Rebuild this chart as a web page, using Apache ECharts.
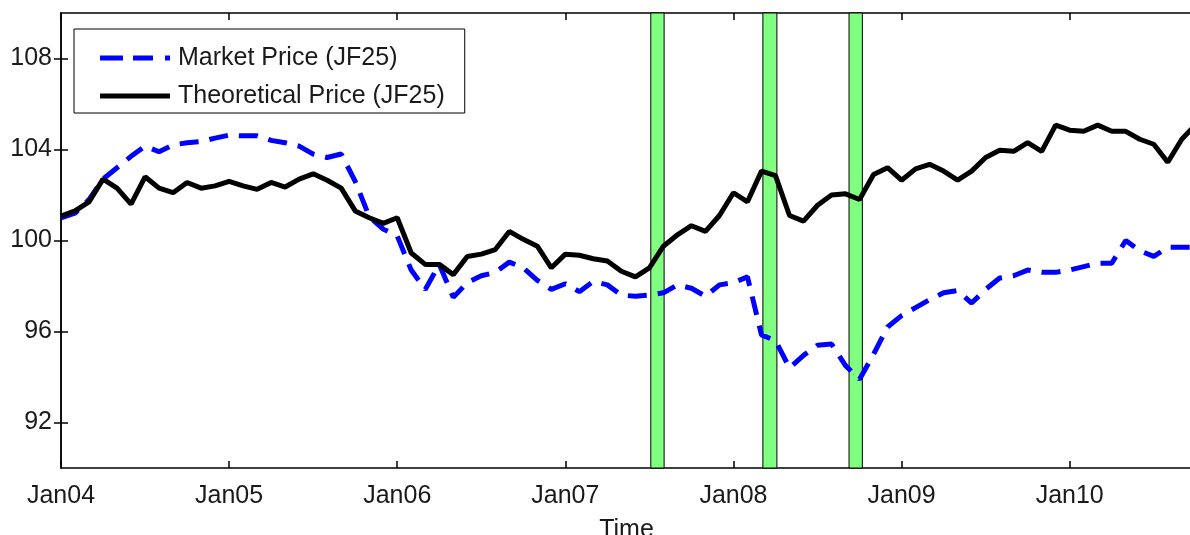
<!DOCTYPE html>
<html>
<head>
<meta charset="utf-8">
<title>JF25 market vs theoretical price</title>
<script src="https://cdn.jsdelivr.net/npm/echarts@6/dist/echarts.min.js"></script>
<style>
    html, body { margin: 0; padding: 0; background: #fff; }
    #chart { width: 1190px; height: 535px; }
</style>
</head>
<body>
<div id="chart"></div>
<script>
// monthly observations, index 0 = Jan 2004
var marketPrice = [
    101.0, 101.2, 101.8, 102.7, 103.2, 103.7, 104.15, 103.9, 104.2, 104.3, 104.35, 104.5,
    104.63, 104.6, 104.6, 104.4, 104.3, 104.15, 103.8, 103.65, 103.8, 102.6, 101.05, 100.5,
    100.2, 98.7, 97.85, 98.95, 97.5, 98.15, 98.45, 98.6, 99.05, 98.8, 98.25, 97.85,
    98.1, 97.75, 98.2, 98.05, 97.6, 97.55, 97.6, 97.7, 98.05, 97.9, 97.55, 98.05,
    98.15, 98.4, 95.85, 95.6, 94.4, 94.95, 95.4, 95.45, 94.5, 93.9, 95.0, 96.2,
    96.7, 97.05, 97.4, 97.7, 97.8, 97.25, 97.85, 98.35, 98.45, 98.7, 98.6, 98.6,
    98.7, 98.85, 99.0, 99.0, 100.0, 99.55, 99.3, 99.7, 99.7, 99.7
];
var theoreticalPrice = [
    101.07, 101.3, 101.7, 102.7, 102.3, 101.6, 102.8, 102.3, 102.1, 102.55, 102.3, 102.4,
    102.6, 102.4, 102.25, 102.55, 102.35, 102.7, 102.93, 102.65, 102.3, 101.3, 101.0, 100.75,
    101.0, 99.45, 98.95, 98.95, 98.5, 99.3, 99.4, 99.6, 100.4, 100.05, 99.75, 98.8,
    99.4, 99.35, 99.2, 99.1, 98.65, 98.4, 98.8, 99.75, 100.25, 100.65, 100.4, 101.1,
    102.1, 101.7, 103.05, 102.85, 101.1, 100.85, 101.55, 102.0, 102.05, 101.8, 102.9, 103.2,
    102.65, 103.15, 103.35, 103.05, 102.65, 103.05, 103.65, 103.97, 103.92, 104.3, 103.92, 105.07,
    104.85, 104.8, 105.07, 104.8, 104.8, 104.45, 104.23, 103.44, 104.45, 105.1
];

// shaded crisis periods, in months since Jan 2004
var crisisBands = [[42.1, 43.05], [50.1, 51.1], [56.25, 57.2]];

var xTickValues = [0, 12, 24, 36, 48, 60, 72];
var xTickLabels = ['Jan04', 'Jan05', 'Jan06', 'Jan07', 'Jan08', 'Jan09', 'Jan10'];
var yTickValues = [92, 96, 100, 104, 108];

var seriesNames = ['Market Price (JF25)', 'Theoretical Price (JF25)'];

function toPoints(values) {
    var pts = [];
    for (var i = 0; i < values.length; i++) {
        pts.push([i, values[i]]);
    }
    return pts;
}

var FONT = '"Liberation Sans", Arial, sans-serif';
var TXT = '#1a1a1a';

// legend samples: dashed bar / solid bar
var DASH_ICON = 'path://M0,0h23v5h-23z M33,0h20v5h-20z M65,0h5v5h-5z';
var SOLID_ICON = 'path://M0,0h70v5h-70z';

function makeAxisTick(values) {
    return { show: true, inside: true, length: 7, lineStyle: { color: '#000', width: 1.5 }, customValues: values };
}
var axisLine = { show: true, lineStyle: { color: '#000', width: 1.5 } };

var myChart = echarts.init(document.getElementById('chart'), null, { renderer: 'canvas' });

var option = {
    animation: false,
    backgroundColor: '#fff',
    // fixed plot box, labels may run past the canvas edge like the original
    grid: { left: 61, right: -2, top: 13, bottom: 67, outerBoundsMode: 'none', containLabel: false },
    legend: {
        data: [
            { name: seriesNames[0], icon: DASH_ICON },
            { name: seriesNames[1], icon: SOLID_ICON }
        ],
        orient: 'vertical',
        left: 74,
        top: 29,
        padding: [16, 20, 4, 26],
        itemWidth: 70,
        itemHeight: 5,
        itemGap: 12,
        backgroundColor: '#fff',
        borderColor: '#000',
        borderWidth: 1,
        textStyle: { fontFamily: FONT, fontSize: 25, color: TXT, lineHeight: 26, padding: [0, 0, 0, 3] }
    },
    xAxis: [{
        type: 'value',
        min: 0,
        max: 80.73,
        interval: 12,
        position: 'bottom',
        name: 'Time',
        nameLocation: 'middle',
        nameGap: 50,
        nameTextStyle: { fontFamily: FONT, fontSize: 25, color: TXT },
        axisLine: axisLine,
        axisTick: makeAxisTick(xTickValues),
        axisLabel: {
            customValues: xTickValues,
            margin: 16,
            fontFamily: FONT, fontSize: 25, color: TXT,
            formatter: function (v) { return xTickLabels[xTickValues.indexOf(v)] || ''; }
        },
        splitLine: { show: false }
    }, {
        type: 'value',
        min: 0,
        max: 80.73,
        interval: 12,
        position: 'top',
        axisLine: axisLine,
        axisTick: makeAxisTick(xTickValues),
        axisLabel: { show: false },
        splitLine: { show: false }
    }],
    yAxis: [{
        type: 'value',
        min: 90,
        max: 110,
        position: 'left',
        axisLine: axisLine,
        axisTick: makeAxisTick(yTickValues),
        axisLabel: { customValues: yTickValues, margin: 9, fontFamily: FONT, fontSize: 25, color: TXT },
        splitLine: { show: false }
    }, {
        type: 'value',
        min: 90,
        max: 110,
        position: 'right',
        axisLine: axisLine,
        axisTick: makeAxisTick(yTickValues),
        axisLabel: { show: false },
        splitLine: { show: false }
    }],
    series: [{
        // only carries the green bands
        type: 'line',
        name: 'bands',
        data: [],
        z: 1,
        silent: true,
        markArea: {
            silent: true,
            itemStyle: { color: '#80ff80', borderColor: '#000', borderWidth: 1, opacity: 1 },
            data: crisisBands.map(function (b) { return [{ xAxis: b[0] }, { xAxis: b[1] }]; })
        }
    }, {
        type: 'line',
        name: seriesNames[0],
        data: toPoints(marketPrice),
        symbol: 'none',
        z: 3,
        lineStyle: { color: '#0000ff', width: 5, type: [19, 11] },
        itemStyle: { color: '#0000ff' }
    }, {
        type: 'line',
        name: seriesNames[1],
        data: toPoints(theoreticalPrice),
        symbol: 'none',
        z: 4,
        lineStyle: { color: '#000', width: 5 },
        itemStyle: { color: '#000' }
    }]
};

myChart.setOption(option);
</script>
</body>
</html>
